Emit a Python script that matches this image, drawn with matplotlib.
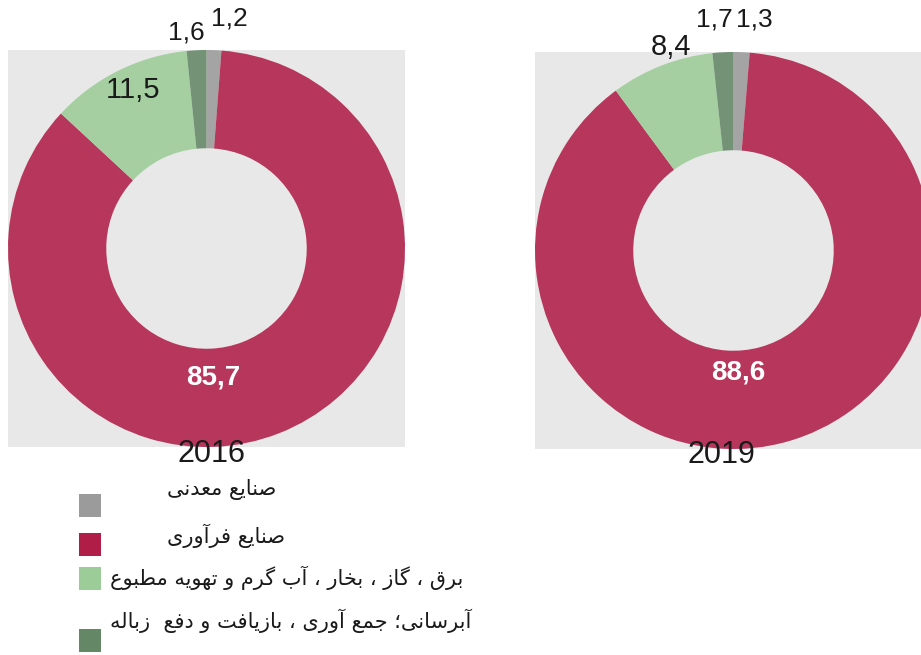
# Donut charts: share of industry sub-sectors, 2016 vs 2019
import matplotlib
matplotlib.use('Agg')
import matplotlib.pyplot as plt
from matplotlib.patches import Rectangle

years = ['2016', '2019']
sectors = ['صنایع معدنی',
           'صنایع فرآوری',
           'برق ، گاز ، بخار ، آب گرم و تهویه مطبوع',
           'آبرسانی؛ جمع آوری ، بازیافت و دفع  زباله']
shares_2016 = [1.2, 85.7, 11.5, 1.6]
shares_2019 = [1.3, 88.6, 8.4, 1.7]

cols = ['#9b9b9b', '#b01e48', '#9ccc98', '#648766']

# matplotlib does no arabic shaping, so pick the presentation forms by hand
# (isolated, final, initial, medial)
FORMS = {
    '\u0627': ('\uFE8D', '\uFE8E', None, None),
    '\u0622': ('\uFE81', '\uFE82', None, None),
    '\u0628': ('\uFE8F', '\uFE90', '\uFE91', '\uFE92'),
    '\u062A': ('\uFE95', '\uFE96', '\uFE97', '\uFE98'),
    '\u062C': ('\uFE9D', '\uFE9E', '\uFE9F', '\uFEA0'),
    '\u062E': ('\uFEA5', '\uFEA6', '\uFEA7', '\uFEA8'),
    '\u062F': ('\uFEA9', '\uFEAA', None, None),
    '\u0631': ('\uFEAD', '\uFEAE', None, None),
    '\u0632': ('\uFEAF', '\uFEB0', None, None),
    '\u0633': ('\uFEB1', '\uFEB2', '\uFEB3', '\uFEB4'),
    '\u0635': ('\uFEB9', '\uFEBA', '\uFEBB', '\uFEBC'),
    '\u0637': ('\uFEC1', '\uFEC2', '\uFEC3', '\uFEC4'),
    '\u0639': ('\uFEC9', '\uFECA', '\uFECB', '\uFECC'),
    '\u0641': ('\uFED1', '\uFED2', '\uFED3', '\uFED4'),
    '\u0642': ('\uFED5', '\uFED6', '\uFED7', '\uFED8'),
    '\u0644': ('\uFEDD', '\uFEDE', '\uFEDF', '\uFEE0'),
    '\u0645': ('\uFEE1', '\uFEE2', '\uFEE3', '\uFEE4'),
    '\u0646': ('\uFEE5', '\uFEE6', '\uFEE7', '\uFEE8'),
    '\u0647': ('\uFEE9', '\uFEEA', '\uFEEB', '\uFEEC'),
    '\u0648': ('\uFEED', '\uFEEE', None, None),
    '\u06CC': ('\uFBFC', '\uFBFD', '\uFBFE', '\uFBFF'),
    '\u06AF': ('\uFB92', '\uFB93', '\uFB94', '\uFB95'),
}


def shape(text):
    out = []
    for i, ch in enumerate(text):
        forms = FORMS.get(ch)
        if forms is None:
            out.append(ch)
            continue
        prev = text[i - 1] if i > 0 else ''
        nxt = text[i + 1] if i + 1 < len(text) else ''
        join_prev = prev in FORMS and FORMS[prev][2] is not None
        join_next = forms[2] is not None and nxt in FORMS
        if join_prev and join_next:
            out.append(forms[3])
        elif join_prev:
            out.append(forms[1])
        elif join_next:
            out.append(forms[2])
        else:
            out.append(forms[0])
    return ''.join(reversed(out))


def fmt(v):
    return ('%.1f' % v).replace('.', ',')


plt.rcParams['font.family'] = ['Liberation Sans', 'DejaVu Sans']

W, H = 921, 655
fig = plt.figure(figsize=(W / 100, H / 100), dpi=100, facecolor='w')

# axes boxes in pixels: left, top, size
boxes = [(8, 50, 397), (535, 52, 397)]
# label spots in data units of each axes (radius 1)
label_pos = [
    [(0.116, 1.157), (0.035, -0.652), (-0.369, 0.798), (-0.101, 1.086)],
    [(0.106, 1.162), (0.025, -0.616), (-0.313, 1.025), (-0.096, 1.162)],
]
label_size = [19, 20, 21, 19]
year_pos = [(0.025, -1.035), (-0.061, -1.030)]

for i, vals in enumerate([shares_2016, shares_2019]):
    x0, y0, s = boxes[i]
    ax = fig.add_axes([x0 / W, (H - y0 - s) / H, s / W, s / H])
    ax.pie(vals, colors=cols, startangle=90, counterclock=False, radius=1,
           wedgeprops=dict(width=0.495, linewidth=0, alpha=0.88))
    ax.set_frame_on(True)
    ax.set_facecolor('#e8e8e8')
    ax.set_xlim(-1, 1)
    ax.set_ylim(-1, 1)
    ax.set_aspect('equal')
    ax.set_xticks([])
    ax.set_yticks([])
    for sp in ax.spines.values():
        sp.set_visible(False)
    for k, v in enumerate(vals):
        px, py = label_pos[i][k]
        if k == 1:
            ax.text(px, py, fmt(v), ha='center', va='center',
                    fontsize=label_size[k], fontweight='bold', color='white')
        else:
            ax.text(px, py, fmt(v), ha='center', va='center',
                    fontsize=label_size[k], color='#1a1a1a', clip_on=False)
    ax.text(year_pos[i][0], year_pos[i][1], years[i], ha='center',
            va='center', fontsize=22, color='#1a1a1a', clip_on=False)

# legend: swatch at left, persian text next to it
swatch_top = [494, 533, 567, 629]
text_y = [490, 536, 578, 621]
text_x = [167, 167, 110, 110]
for k, name in enumerate(sectors):
    fig.add_artist(Rectangle((79 / W, (H - swatch_top[k] - 23) / H),
                             22 / W, 23 / H, transform=fig.transFigure,
                             facecolor=cols[k], edgecolor='none'))
    fig.text(text_x[k] / W, (H - text_y[k]) / H, shape(name), ha='left',
             va='center', fontsize=15, color='#1a1a1a',
             family=['DejaVu Sans'])

fig.savefig('out.png', dpi=100)
